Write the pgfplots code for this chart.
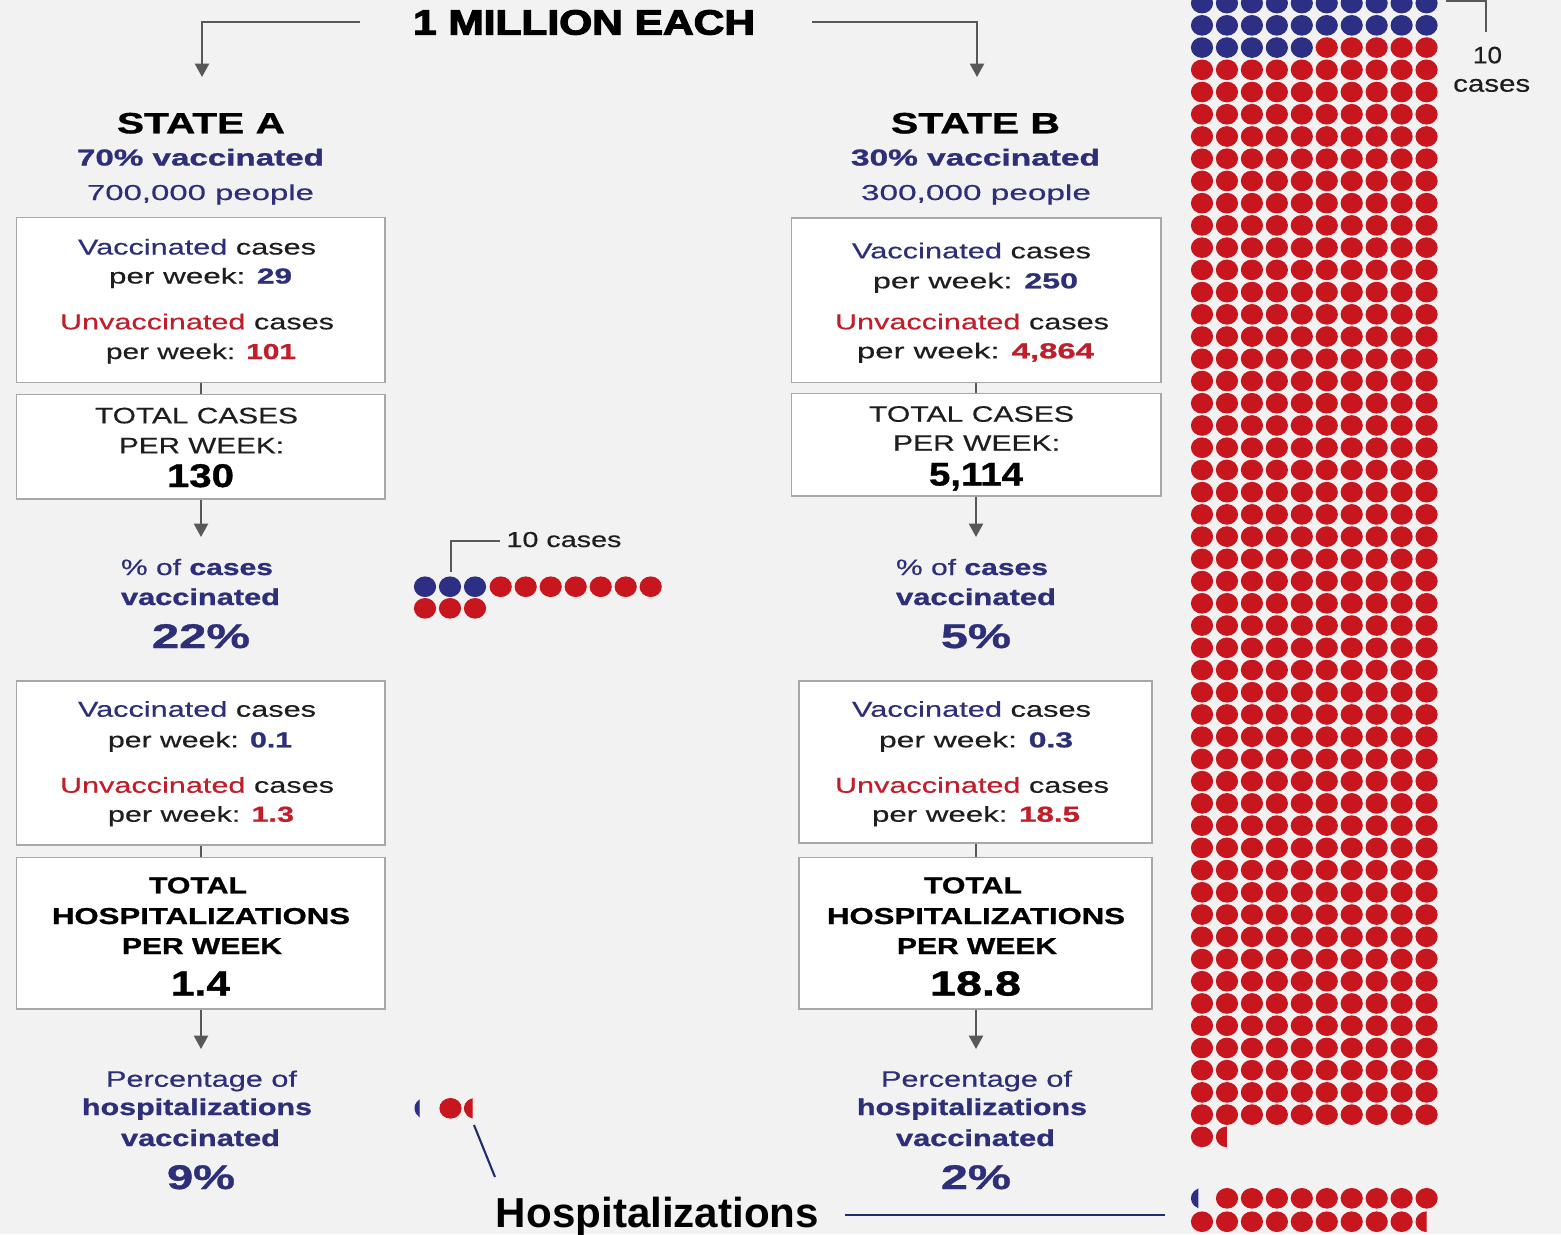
\documentclass[border=0pt]{standalone}
\usepackage{pgfplots}
\pgfplotsset{compat=1.18}
\usepackage{fontspec}
\setmainfont{Liberation Sans}[UprightFeatures={FakeBold=0.35}, BoldFeatures={FakeBold=0.9}]
\newfontfamily\heavyfont{Liberation Sans Bold}[FakeBold=3]
\newfontfamily\plainbold{Liberation Sans Bold}
\usepackage{graphicx}
\usetikzlibrary{arrows.meta}

\newlength\px \setlength\px{0.28453pt}
\definecolor{bg}{HTML}{F2F2F2}
\definecolor{navy}{HTML}{2D2F78}
\definecolor{tred}{HTML}{C01E2A}
\definecolor{dblue}{HTML}{2C2F84}
\definecolor{dred}{HTML}{C8161E}
\definecolor{boxline}{HTML}{A8A8A8}
\definecolor{agray}{HTML}{585858}
\definecolor{dark}{HTML}{1E1E1E}
\definecolor{hline}{HTML}{1E2D6E}

% text line: x-centre, baseline, width (px), cap height (px), content
\newcommand\T[5]{\node[anchor=base,inner sep=0pt,outer sep=0pt,text=dark] at (axis cs:#1,#2) {\resizebox{#3\px}{\height}{\fontsize{\dimexpr #4\px*1397/1000\relax}{\dimexpr #4\px*2\relax}\selectfont #5}};}

% partial dots: left circular segment, start angle #2
\newcommand\declseg[2]{\pgfdeclareplotmark{#1}{%
  \pgfpathmoveto{\pgfpointpolar{#2}{\pgfplotmarksize}}%
  \pgfpatharc{#2}{360-#2}{\pgfplotmarksize}%
  \pgfpathclose\pgfusepathqfillstroke}}
\declseg{segA}{128}
\declseg{segB}{106}
\declseg{segC}{113}
\declseg{segD}{93}

\pgfplotsset{
  dotsty/.style={only marks, mark=#1, mark size=2.78pt},
  reddot/.style={dotsty=*, mark options={fill=dred, draw=dred, line width=0.3pt, xscale=1.08}},
  bluedot/.style={dotsty=*, mark options={fill=dblue, draw=dblue, line width=0.3pt, xscale=1.08}},
  redseg/.style={dotsty=#1, mark options={fill=dred, draw=dred, line width=0.3pt, xscale=1.08}},
  blueseg/.style={dotsty=#1, mark options={fill=dblue, draw=dblue, line width=0.3pt, xscale=1.08}},
  grid/.style={x filter/.expression={1202+24.95*x}, y filter/.expression={3.1+22.23*y}},
}

\begin{document}
\begin{tikzpicture}
\begin{axis}[
  width=15.61cm, height=12.34cm, scale only axis,
  xmin=0, xmax=1561, ymin=0, ymax=1234, y dir=reverse,
  hide axis, clip=true,
]
\fill[bg] (axis cs:0,0) rectangle (axis cs:1561,1234);
\coordinate (TL) at (axis cs:0,0);
\coordinate (BR) at (axis cs:1561,1234);

% ---------- arrows and connectors ----------
\draw[agray, line width=0.57pt, -{Triangle[width=4pt,length=3.8pt]}] (axis cs:360,22) -- (axis cs:202,22) -- (axis cs:202,77);
\draw[agray, line width=0.57pt, -{Triangle[width=4pt,length=3.8pt]}] (axis cs:812,22) -- (axis cs:977,22) -- (axis cs:977,77);
\draw[agray, line width=0.57pt, -{Triangle[width=4pt,length=3.8pt]}] (axis cs:201,499) -- (axis cs:201,537);
\draw[agray, line width=0.57pt, -{Triangle[width=4pt,length=3.8pt]}] (axis cs:976,496) -- (axis cs:976,537);
\draw[agray, line width=0.57pt, -{Triangle[width=4pt,length=3.8pt]}] (axis cs:201,1009) -- (axis cs:201,1049);
\draw[agray, line width=0.57pt, -{Triangle[width=4pt,length=3.8pt]}] (axis cs:976,1009) -- (axis cs:976,1049);
\draw[agray, line width=0.57pt] (axis cs:201,382) -- (axis cs:201,394);
\draw[agray, line width=0.57pt] (axis cs:976,382) -- (axis cs:976,394);
\draw[agray, line width=0.57pt] (axis cs:201,845) -- (axis cs:201,857);
\draw[agray, line width=0.57pt] (axis cs:976,843) -- (axis cs:976,857);

% ---------- boxes ----------
\draw[boxline, line width=0.45pt, fill=white] (axis cs:16.5,217.5) rectangle (axis cs:385,382.5);
\draw[boxline, line width=0.45pt, fill=white] (axis cs:16.5,394.5) rectangle (axis cs:385,499);
\draw[boxline, line width=0.45pt, fill=white] (axis cs:16.5,681) rectangle (axis cs:385,845);
\draw[boxline, line width=0.45pt, fill=white] (axis cs:16.5,857.5) rectangle (axis cs:385,1009);
\draw[boxline, line width=0.45pt, fill=white] (axis cs:791.5,218) rectangle (axis cs:1161,382.5);
\draw[boxline, line width=0.45pt, fill=white] (axis cs:791.5,393.5) rectangle (axis cs:1161,496);
\draw[boxline, line width=0.45pt, fill=white] (axis cs:799,681) rectangle (axis cs:1152,843);
\draw[boxline, line width=0.45pt, fill=white] (axis cs:799,857.5) rectangle (axis cs:1152,1009);

% ---------- title and headers ----------
\T{584}{34.5}{342}{25}{\heavyfont\color{black}1 MILLION EACH}
\T{201}{133.3}{168}{21}{\bfseries\color{black}STATE A}
\T{200.5}{165.5}{247}{16.5}{\bfseries\color{navy}70\% vaccinated}
\T{200.5}{200}{227}{15.5}{\color{navy}700,000 people}
\T{975.5}{133.3}{169}{21}{\bfseries\color{black}STATE B}
\T{975.5}{165.5}{249}{16.5}{\bfseries\color{navy}30\% vaccinated}
\T{976}{200}{230}{15.5}{\color{navy}300,000 people}

% ---------- state A boxes ----------
\T{197}{254.5}{238}{15.5}{{\color{navy}Vaccinated} cases}
\T{200.5}{283.5}{183}{15.5}{per week: {\bfseries\color{navy}29}}
\T{197}{329.3}{274}{15.5}{{\color{tred}Unvaccinated} cases}
\T{201}{359}{190}{15.5}{per week: {\bfseries\color{tred}101}}
\T{196.5}{423.3}{203}{16}{TOTAL CASES}
\T{201.5}{453.3}{165}{16}{PER WEEK:}
\T{200.5}{487}{67}{23.5}{\bfseries\color{black}130}
\T{197}{575}{152}{16}{\color{navy}\% of \bfseries cases}
\T{200.5}{605}{159}{16.5}{\bfseries\color{navy}vaccinated}
\T{201}{648}{98}{24.5}{\bfseries\color{navy}22\%}
\T{197}{716.7}{238}{15.5}{{\color{navy}Vaccinated} cases}
\T{200}{747.3}{184}{15.5}{per week: {\bfseries\color{navy}0.1}}
\T{197}{792.7}{274}{15.5}{{\color{tred}Unvaccinated} cases}
\T{201}{821.7}{186}{15.5}{per week: {\bfseries\color{tred}1.3}}
\T{198}{893.3}{98}{16.5}{\bfseries\color{black}TOTAL}
\T{201}{924}{298}{16.5}{\bfseries\color{black}HOSPITALIZATIONS}
\T{202}{954}{160}{16.5}{\bfseries\color{black}PER WEEK}
\T{200.5}{995.5}{59}{25}{\bfseries\color{black}1.4}
\T{201.5}{1086.7}{191}{16}{\color{navy}Percentage of}
\T{197}{1115}{230}{16.5}{\bfseries\color{navy}hospitalizations}
\T{200.5}{1146}{159}{16.5}{\bfseries\color{navy}vaccinated}
\T{201}{1189}{68}{24.5}{\bfseries\color{navy}9\%}

% ---------- state B boxes ----------
\T{971.5}{258.3}{239}{15.5}{{\color{navy}Vaccinated} cases}
\T{975.5}{288.3}{205}{15.5}{per week: {\bfseries\color{navy}250}}
\T{972}{329.3}{274}{15.5}{{\color{tred}Unvaccinated} cases}
\T{975.5}{358.3}{237}{15.5}{per week: {\bfseries\color{tred}4,864}}
\T{971.5}{421.7}{205}{16}{TOTAL CASES}
\T{976.5}{450.7}{167}{16}{PER WEEK:}
\T{976}{485.5}{94}{23.5}{\bfseries\color{black}5,114}
\T{972}{575}{152}{16}{\color{navy}\% of \bfseries cases}
\T{976}{605}{160}{16.5}{\bfseries\color{navy}vaccinated}
\T{976}{648}{70}{24.5}{\bfseries\color{navy}5\%}
\T{971.5}{716.7}{239}{15.5}{{\color{navy}Vaccinated} cases}
\T{976}{747.3}{194}{15.5}{per week: {\bfseries\color{navy}0.3}}
\T{972}{792.7}{274}{15.5}{{\color{tred}Unvaccinated} cases}
\T{976}{821.7}{208}{15.5}{per week: {\bfseries\color{tred}18.5}}
\T{973}{893.3}{98}{16.5}{\bfseries\color{black}TOTAL}
\T{976}{924}{298}{16.5}{\bfseries\color{black}HOSPITALIZATIONS}
\T{977}{954}{160}{16.5}{\bfseries\color{black}PER WEEK}
\T{975.5}{995.5}{91}{25}{\bfseries\color{black}18.8}
\T{976.5}{1086.7}{191}{16}{\color{navy}Percentage of}
\T{972}{1115}{230}{16.5}{\bfseries\color{navy}hospitalizations}
\T{975.5}{1146}{159}{16.5}{\bfseries\color{navy}vaccinated}
\T{976}{1189}{70}{24.5}{\bfseries\color{navy}2\%}

% ---------- annotations ----------
\draw[agray, line width=0.57pt] (axis cs:451,572) -- (axis cs:451,540.5) -- (axis cs:500,540.5);
\T{564}{547}{115}{15.5}{10 cases}
\draw[agray, line width=0.57pt] (axis cs:1446,1) -- (axis cs:1485.5,1) -- (axis cs:1485.5,32);
\T{1487.5}{63.3}{29}{17}{10}
\T{1491.7}{91.7}{77}{17}{cases}
\draw[hline, line width=0.6pt] (axis cs:474,1125) -- (axis cs:495,1177);
\draw[hline, line width=0.6pt] (axis cs:845,1215) -- (axis cs:1165,1215);
\T{657.5}{1227}{323}{30}{\plainbold\color{black}Hospitalizations}

% ---------- State A: 130 cases, 10 per dot ----------
\addplot[bluedot] coordinates {(425,586.7)(450,586.7)(475,586.7)};
\addplot[reddot] coordinates {(500.7,586.7)(525.7,586.7)(550.7,586.7)(575.7,586.7)(600.7,586.7)(625.7,586.7)(650.7,586.7)(425,608.3)(450,608.3)(475,608.3)};

% ---------- State A: 1.4 hospitalizations ----------
\addplot[blueseg=segA] coordinates {(425.5,1108.3)};
\addplot[reddot] coordinates {(450.5,1108.3)};
\addplot[redseg=segB] coordinates {(475,1108.3)};

% ---------- State B: 5,114 cases (column, row) ----------
\addplot[bluedot, grid] coordinates {
(0,0)(1,0)(2,0)(3,0)(4,0)(5,0)(6,0)(7,0)(8,0)(9,0)
(0,1)(1,1)(2,1)(3,1)(4,1)(5,1)(6,1)(7,1)(8,1)(9,1)
(0,2)(1,2)(2,2)(3,2)(4,2)};
\addplot[reddot, grid] coordinates {
(5,2)(6,2)(7,2)(8,2)(9,2)
(0,3)(1,3)(2,3)(3,3)(4,3)(5,3)(6,3)(7,3)(8,3)(9,3)
(0,4)(1,4)(2,4)(3,4)(4,4)(5,4)(6,4)(7,4)(8,4)(9,4)
(0,5)(1,5)(2,5)(3,5)(4,5)(5,5)(6,5)(7,5)(8,5)(9,5)
(0,6)(1,6)(2,6)(3,6)(4,6)(5,6)(6,6)(7,6)(8,6)(9,6)
(0,7)(1,7)(2,7)(3,7)(4,7)(5,7)(6,7)(7,7)(8,7)(9,7)
(0,8)(1,8)(2,8)(3,8)(4,8)(5,8)(6,8)(7,8)(8,8)(9,8)
(0,9)(1,9)(2,9)(3,9)(4,9)(5,9)(6,9)(7,9)(8,9)(9,9)
(0,10)(1,10)(2,10)(3,10)(4,10)(5,10)(6,10)(7,10)(8,10)(9,10)
(0,11)(1,11)(2,11)(3,11)(4,11)(5,11)(6,11)(7,11)(8,11)(9,11)
(0,12)(1,12)(2,12)(3,12)(4,12)(5,12)(6,12)(7,12)(8,12)(9,12)
(0,13)(1,13)(2,13)(3,13)(4,13)(5,13)(6,13)(7,13)(8,13)(9,13)
(0,14)(1,14)(2,14)(3,14)(4,14)(5,14)(6,14)(7,14)(8,14)(9,14)
(0,15)(1,15)(2,15)(3,15)(4,15)(5,15)(6,15)(7,15)(8,15)(9,15)
(0,16)(1,16)(2,16)(3,16)(4,16)(5,16)(6,16)(7,16)(8,16)(9,16)
(0,17)(1,17)(2,17)(3,17)(4,17)(5,17)(6,17)(7,17)(8,17)(9,17)
(0,18)(1,18)(2,18)(3,18)(4,18)(5,18)(6,18)(7,18)(8,18)(9,18)
(0,19)(1,19)(2,19)(3,19)(4,19)(5,19)(6,19)(7,19)(8,19)(9,19)
(0,20)(1,20)(2,20)(3,20)(4,20)(5,20)(6,20)(7,20)(8,20)(9,20)
(0,21)(1,21)(2,21)(3,21)(4,21)(5,21)(6,21)(7,21)(8,21)(9,21)
(0,22)(1,22)(2,22)(3,22)(4,22)(5,22)(6,22)(7,22)(8,22)(9,22)
(0,23)(1,23)(2,23)(3,23)(4,23)(5,23)(6,23)(7,23)(8,23)(9,23)
(0,24)(1,24)(2,24)(3,24)(4,24)(5,24)(6,24)(7,24)(8,24)(9,24)
(0,25)(1,25)(2,25)(3,25)(4,25)(5,25)(6,25)(7,25)(8,25)(9,25)
(0,26)(1,26)(2,26)(3,26)(4,26)(5,26)(6,26)(7,26)(8,26)(9,26)
(0,27)(1,27)(2,27)(3,27)(4,27)(5,27)(6,27)(7,27)(8,27)(9,27)
(0,28)(1,28)(2,28)(3,28)(4,28)(5,28)(6,28)(7,28)(8,28)(9,28)
(0,29)(1,29)(2,29)(3,29)(4,29)(5,29)(6,29)(7,29)(8,29)(9,29)
(0,30)(1,30)(2,30)(3,30)(4,30)(5,30)(6,30)(7,30)(8,30)(9,30)
(0,31)(1,31)(2,31)(3,31)(4,31)(5,31)(6,31)(7,31)(8,31)(9,31)
(0,32)(1,32)(2,32)(3,32)(4,32)(5,32)(6,32)(7,32)(8,32)(9,32)
(0,33)(1,33)(2,33)(3,33)(4,33)(5,33)(6,33)(7,33)(8,33)(9,33)
(0,34)(1,34)(2,34)(3,34)(4,34)(5,34)(6,34)(7,34)(8,34)(9,34)
(0,35)(1,35)(2,35)(3,35)(4,35)(5,35)(6,35)(7,35)(8,35)(9,35)
(0,36)(1,36)(2,36)(3,36)(4,36)(5,36)(6,36)(7,36)(8,36)(9,36)
(0,37)(1,37)(2,37)(3,37)(4,37)(5,37)(6,37)(7,37)(8,37)(9,37)
(0,38)(1,38)(2,38)(3,38)(4,38)(5,38)(6,38)(7,38)(8,38)(9,38)
(0,39)(1,39)(2,39)(3,39)(4,39)(5,39)(6,39)(7,39)(8,39)(9,39)
(0,40)(1,40)(2,40)(3,40)(4,40)(5,40)(6,40)(7,40)(8,40)(9,40)
(0,41)(1,41)(2,41)(3,41)(4,41)(5,41)(6,41)(7,41)(8,41)(9,41)
(0,42)(1,42)(2,42)(3,42)(4,42)(5,42)(6,42)(7,42)(8,42)(9,42)
(0,43)(1,43)(2,43)(3,43)(4,43)(5,43)(6,43)(7,43)(8,43)(9,43)
(0,44)(1,44)(2,44)(3,44)(4,44)(5,44)(6,44)(7,44)(8,44)(9,44)
(0,45)(1,45)(2,45)(3,45)(4,45)(5,45)(6,45)(7,45)(8,45)(9,45)
(0,46)(1,46)(2,46)(3,46)(4,46)(5,46)(6,46)(7,46)(8,46)(9,46)
(0,47)(1,47)(2,47)(3,47)(4,47)(5,47)(6,47)(7,47)(8,47)(9,47)
(0,48)(1,48)(2,48)(3,48)(4,48)(5,48)(6,48)(7,48)(8,48)(9,48)
(0,49)(1,49)(2,49)(3,49)(4,49)(5,49)(6,49)(7,49)(8,49)(9,49)
(0,50)(1,50)(2,50)(3,50)(4,50)(5,50)(6,50)(7,50)(8,50)(9,50)
(0,51)};
\addplot[redseg=segD, grid] coordinates {(1,51)};

% ---------- State B: 18.8 hospitalizations ----------
\addplot[blueseg=segC] coordinates {(1202,1198.3)};
\addplot[reddot] coordinates {
(1227,1198.3)(1251.9,1198.3)(1276.9,1198.3)(1301.8,1198.3)(1326.8,1198.3)(1351.7,1198.3)(1376.7,1198.3)(1401.6,1198.3)(1426.6,1198.3)
(1202,1221.7)(1227,1221.7)(1251.9,1221.7)(1276.9,1221.7)(1301.8,1221.7)(1326.8,1221.7)(1351.7,1221.7)(1376.7,1221.7)(1401.6,1221.7)};
\addplot[redseg=segD] coordinates {(1426.6,1221.7)};
\end{axis}
\pgfresetboundingbox
\useasboundingbox (TL) rectangle (BR);
\end{tikzpicture}
\end{document}
